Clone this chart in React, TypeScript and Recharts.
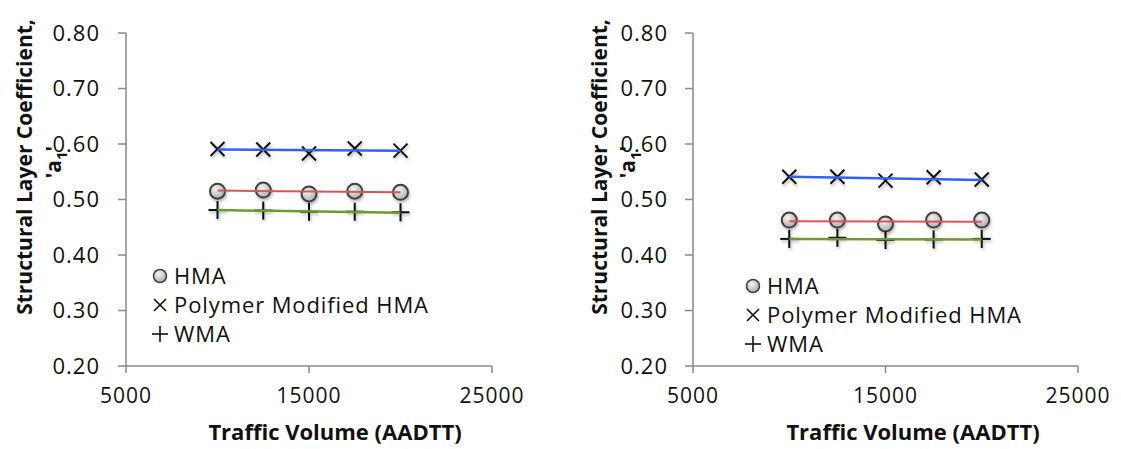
import React from 'react';
import { ScatterChart, Scatter, XAxis, YAxis, Label } from 'recharts';

// traffic volumes (AADTT) used for the test points
const trafficVolumes = [10000, 12500, 15000, 17500, 20000];
const trendX = [10000, 20000];

// left panel
const leftHma = [0.515, 0.517, 0.510, 0.515, 0.513];
const leftPolymer = [0.591, 0.590, 0.583, 0.592, 0.588];
const leftWma = [0.481, 0.480, 0.478, 0.478, 0.477];
const leftHmaTrend = [0.516, 0.513];
const leftPolymerTrend = [0.590, 0.588];
const leftWmaTrend = [0.481, 0.476];

// right panel
const rightHma = [0.463, 0.463, 0.456, 0.463, 0.463];
const rightPolymer = [0.541, 0.541, 0.534, 0.540, 0.536];
const rightWma = [0.429, 0.431, 0.427, 0.428, 0.429];
const rightHmaTrend = [0.461, 0.460];
const rightPolymerTrend = [0.541, 0.535];
const rightWmaTrend = [0.429, 0.428];

const xTicks = [5000, 15000, 25000];
const yTicks = [0.2, 0.3, 0.4, 0.5, 0.6, 0.7, 0.8];
const seriesNames = ['HMA', 'Polymer Modified HMA', 'WMA'];

const FONT = '"Open Sans", sans-serif';
const AXIS = '#8a8a8a';

const toPoints = (xs: number[], ys: number[]) => xs.map((x, i) => ({ x, y: ys[i] }));

const CircleMark = (p: any) => (
  <circle cx={p.cx} cy={p.cy} r={7.5} fill="url(#hmaFill)" stroke="#3f3f3f" strokeWidth={2} filter="url(#mkShadow)" />
);
const CrossMark = (p: any) => {
  const s = 7;
  return (
    <g stroke="#111" strokeWidth={2} filter="url(#mkShadow)">
      <line x1={p.cx - s} y1={p.cy - s} x2={p.cx + s} y2={p.cy + s} />
      <line x1={p.cx - s} y1={p.cy + s} x2={p.cx + s} y2={p.cy - s} />
    </g>
  );
};
const PlusMark = (p: any) => {
  const s = 9;
  return (
    <g stroke="#111" strokeWidth={2} filter="url(#mkShadow)">
      <line x1={p.cx - s} y1={p.cy} x2={p.cx + s} y2={p.cy} />
      <line x1={p.cx} y1={p.cy - s} x2={p.cx} y2={p.cy + s} />
    </g>
  );
};
const NoMark = () => <g />;

const legendIcons = [
  <svg width={16} height={16} key="c"><circle cx={8} cy={8} r={6.5} fill="url(#hmaFill)" stroke="#3f3f3f" strokeWidth={1.5} /></svg>,
  <svg width={16} height={16} key="x"><g stroke="#111" strokeWidth={1.6}><line x1={2} y1={2} x2={14} y2={14} /><line x1={2} y1={14} x2={14} y2={2} /></g></svg>,
  <svg width={18} height={18} key="p"><g stroke="#111" strokeWidth={1.6}><line x1={1} y1={9} x2={17} y2={9} /><line x1={9} y1={1} x2={9} y2={17} /></g></svg>,
];

const LegendBox = ({ left, top }: { left: number; top: number }) => (
  <div style={{ position: 'absolute', left, top, fontFamily: FONT, fontSize: 22, letterSpacing: 0.9, color: '#111', lineHeight: '29px' }}>
    {seriesNames.map((n, i) => (
      <div key={n} style={{ display: 'flex', alignItems: 'center', height: 29, whiteSpace: 'nowrap' }}>
        <div style={{ width: 18, display: 'flex', justifyContent: 'center', marginRight: 5 }}>{legendIcons[i]}</div>
        <span>{n}</span>
      </div>
    ))}
  </div>
);

interface PanelProps {
  width: number;
  axisW: number;
  right: number;
  tickGap: number;
  hma: number[];
  polymer: number[];
  wma: number[];
  hmaTrend: number[];
  polymerTrend: number[];
  wmaTrend: number[];
  legendLeft: number;
  legendTop: number;
  line1X: number;
  line2X: number;
  titleX: number;
}

const Panel: React.FC<PanelProps> = (p) => {
  const yTitle = () => (
    <g fontFamily={FONT} fontWeight="bold" fill="#111">
      <text transform={`translate(${p.line1X},167) rotate(-90)`} textAnchor="middle" fontSize={21}>
        Structural Layer Coefficient,
      </text>
      <text transform={`translate(${p.line2X},162) rotate(-90)`} textAnchor="middle" fontSize={21}>
        'a<tspan fontSize={15} dy={6}>1</tspan><tspan dy={-6}>'</tspan>
      </text>
    </g>
  );
  const xTitle = () => (
    <text x={p.titleX} y={440} textAnchor="middle" fontFamily={FONT} fontWeight="bold" fontSize={22} fill="#111">
      Traffic Volume (AADTT)
    </text>
  );

  return (
    <div style={{ position: 'relative', width: p.width, height: 449 }}>
      <ScatterChart width={p.width} height={449} margin={{ top: 33, right: p.right, bottom: 23, left: 0 }}>
        <XAxis
          type="number"
          dataKey="x"
          domain={[5000, 25000]}
          ticks={xTicks}
          height={60}
          stroke={AXIS}
          strokeWidth={1.5}
          tickSize={7}
          tickMargin={15}
          tick={{ fontFamily: FONT, fontSize: 21, fill: '#111', letterSpacing: 1 }}
          allowDataOverflow
        >
          <Label content={xTitle} />
        </XAxis>
        <YAxis
          type="number"
          dataKey="y"
          domain={[0.2, 0.8]}
          ticks={yTicks}
          width={p.axisW}
          stroke={AXIS}
          strokeWidth={1.5}
          tickSize={8}
          tickMargin={p.tickGap}
          tickFormatter={(v: number) => v.toFixed(2)}
          tick={{ fontFamily: FONT, fontSize: 22, fill: '#111', letterSpacing: 1 }}
          allowDataOverflow
        >
          <Label content={yTitle} />
        </YAxis>
        <Scatter name="HMA" data={toPoints(trafficVolumes, p.hma)} shape={CircleMark} isAnimationActive={false} />
        <Scatter name="Polymer Modified HMA" data={toPoints(trafficVolumes, p.polymer)} shape={CrossMark} isAnimationActive={false} />
        <Scatter name="WMA" data={toPoints(trafficVolumes, p.wma)} shape={PlusMark} isAnimationActive={false} />
        <Scatter data={toPoints(trendX, p.hmaTrend)} line={{ stroke: '#d9545a', strokeWidth: 2 }} shape={NoMark} legendType="none" isAnimationActive={false} />
        <Scatter data={toPoints(trendX, p.polymerTrend)} line={{ stroke: '#2f62f0', strokeWidth: 2.5 }} shape={NoMark} legendType="none" isAnimationActive={false} />
        <Scatter data={toPoints(trendX, p.wmaTrend)} line={{ stroke: '#6f9a2e', strokeWidth: 2.5 }} shape={NoMark} legendType="none" isAnimationActive={false} />
      </ScatterChart>
      <LegendBox left={p.legendLeft} top={p.legendTop} />
    </div>
  );
};

export default function App() {
  return (
    <div style={{ position: 'absolute', left: 0, top: 0, width: 1121, height: 449, background: '#fff', overflow: 'hidden' }}>
      <svg width={0} height={0} style={{ position: 'absolute' }}>
        <defs>
          <radialGradient id="hmaFill" cx="40%" cy="35%" r="70%">
            <stop offset="0%" stopColor="#f4f4f4" />
            <stop offset="100%" stopColor="#a9a9a9" />
          </radialGradient>
          <filter id="mkShadow" x="-50%" y="-50%" width="200%" height="200%">
            <feDropShadow dx={1} dy={2} stdDeviation={1.5} floodColor="#000" floodOpacity={0.3} />
          </filter>
        </defs>
      </svg>
      <div style={{ position: 'absolute', left: 0, top: 0 }}>
        <Panel
          width={560}
          axisW={126}
          right={68}
          tickGap={18}
          hma={leftHma}
          polymer={leftPolymer}
          wma={leftWma}
          hmaTrend={leftHmaTrend}
          polymerTrend={leftPolymerTrend}
          wmaTrend={leftWmaTrend}
          legendLeft={151}
          legendTop={261}
          line1X={32}
          line2X={61}
          titleX={335}
        />
      </div>
      <div style={{ position: 'absolute', left: 560, top: 0 }}>
        <Panel
          width={561}
          axisW={133}
          right={43}
          tickGap={17}
          hma={rightHma}
          polymer={rightPolymer}
          wma={rightWma}
          hmaTrend={rightHmaTrend}
          polymerTrend={rightPolymerTrend}
          wmaTrend={rightWmaTrend}
          legendLeft={184}
          legendTop={271}
          line1X={47}
          line2X={75}
          titleX={353}
        />
      </div>
    </div>
  );
}
